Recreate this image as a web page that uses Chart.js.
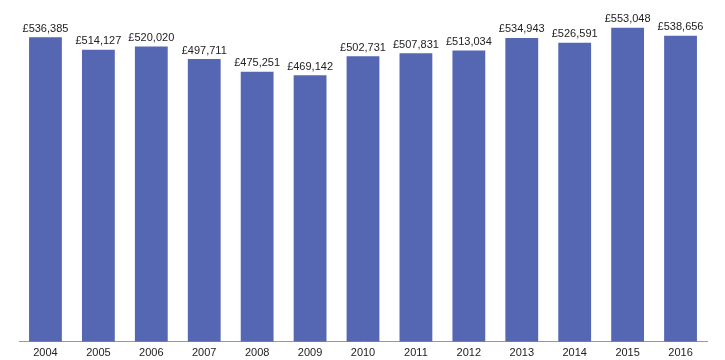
<!DOCTYPE html>
<html>
<head>
<meta charset="utf-8">
<script src="https://cdn.jsdelivr.net/npm/chart.js@4/dist/chart.umd.min.js"></script>
<style>
  html, body { margin: 0; padding: 0; background: #fff; }
  #wrap { width: 725px; height: 360px; }
</style>
</head>
<body>
<div id="wrap"><canvas id="barChart"></canvas></div>
<script>
const years = ["2004", "2005", "2006", "2007", "2008", "2009", "2010", "2011", "2012", "2013", "2014", "2015", "2016"];
const values = [536385, 514127, 520020, 497711, 475251, 469142, 502731, 507831, 513034, 534943, 526591, 553048, 538656];

// value labels above each bar
const valueLabels = {
  id: "valueLabels",
  afterDatasetsDraw(chart) {
    var ctx = chart.ctx;
    var meta = chart.getDatasetMeta(0);
    ctx.save();
    ctx.font = "11px 'Liberation Sans', Arial, sans-serif";
    ctx.fillStyle = "#222";
    ctx.textAlign = "center";
    ctx.textBaseline = "bottom";
    meta.data.forEach(function (bar, i) {
      var text = "£" + values[i].toLocaleString("en-GB");
      ctx.fillText(text, bar.x, bar.y - 3);
    });
    ctx.restore();
  },
};

var ctx = document.getElementById("barChart").getContext("2d");
new Chart(ctx, {
  type: "bar",
  data: {
    labels: years,
    datasets: [
      {
        data: values,
        backgroundColor: "#5567b3",
        borderWidth: 0,
        barPercentage: 0.62,
        categoryPercentage: 1,
      },
    ],
  },
  options: {
    responsive: true,
    maintainAspectRatio: false,
    animation: false,
    layout: { padding: { left: 19, right: 18, top: 1, bottom: -5 } },
    plugins: {
      legend: { display: false },
      tooltip: { enabled: false },
    },
    scales: {
      x: {
        grid: { display: false, drawTicks: false },
        border: { display: true, color: "#999", width: 1 },
        ticks: {
          color: "#222",
          padding: 5,
          font: { family: "'Liberation Sans', Arial, sans-serif", size: 11 },
        },
      },
      y: {
        display: false,
        min: 0,
        max: 600000,
      },
    },
  },
  plugins: [valueLabels],
});
</script>
</body>
</html>
